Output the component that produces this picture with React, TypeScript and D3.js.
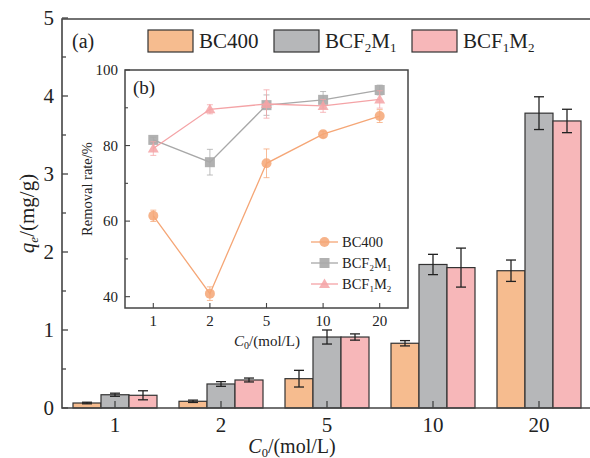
import React from "react";
import * as d3 from "d3";

// concentrations (mol/L)
const conc = ["1", "2", "5", "10", "20"];
const series = ["BC400", "BCF2M1", "BCF1M2"];

// main panel (a): adsorption capacity qe (mg/g)
const qeBC400 = [0.064, 0.086, 0.376, 0.83, 1.76];
const qeBCF2M1 = [0.17, 0.308, 0.91, 1.84, 3.78];
const qeBCF1M2 = [0.163, 0.359, 0.91, 1.8, 3.68];
const qeErrBC400 = [0.01, 0.015, 0.107, 0.034, 0.137];
const qeErrBCF2M1 = [0.02, 0.03, 0.09, 0.13, 0.21];
const qeErrBCF1M2 = [0.058, 0.025, 0.04, 0.25, 0.15];

// inset (b): removal rate (%)
const rrBC400 = [61.4, 40.8, 75.3, 83.0, 87.8];
const rrBCF2M1 = [81.5, 75.6, 90.7, 92.1, 94.7];
const rrBCF1M2 = [79.2, 89.6, 91.0, 90.5, 92.2];
const rrErrBC400 = [1.5, 1.8, 3.8, 0.8, 1.7];
const rrErrBCF2M1 = [0.7, 3.4, 2.7, 2.2, 1.3];
const rrErrBCF1M2 = [1.8, 1.2, 3.75, 1.7, 2.3];

const barFill = ["#F6BC8F", "#B6B7B9", "#F7B7B9"];
const lineCol = ["#F5A676", "#A8A8A8", "#F4A3A6"];
const ink = "#222";
const font = "Liberation Serif, Times New Roman, DejaVu Serif, serif";

const qeVals = [qeBC400, qeBCF2M1, qeBCF1M2];
const qeErrs = [qeErrBC400, qeErrBCF2M1, qeErrBCF1M2];
const rrVals = [rrBC400, rrBCF2M1, rrBCF1M2];
const rrErrs = [rrErrBC400, rrErrBCF2M1, rrErrBCF1M2];

function Label({ name, size, sub }: { name: string; size: number; sub: number }) {
  // BCF2M1 -> BCF₂M₁ with real subscripts
  const m = name.match(/^BCF(\d)M(\d)$/);
  if (!m) return <>{name}</>;
  return (
    <>
      BCF<tspan fontSize={size * 0.62} dy={sub}>{m[1]}</tspan>
      <tspan dy={-sub}>M</tspan>
      <tspan fontSize={size * 0.62} dy={sub}>{m[2]}</tspan>
    </>
  );
}

export default function App() {
  const W = 590, H = 458;
  const L = 62, R = 592, T = 19, B = 408;

  const x0 = d3.scaleBand().domain(conc).range([L, R]);
  const x1 = d3.scaleBand().domain(series).range([0, 84]);
  const y = d3.scaleLinear().domain([0, 5]).range([B, T - 1]);

  // inset
  const iL = 125, iR = 408, iT = 70, iB = 308;
  const ix = d3.scalePoint().domain(conc).range([iL, iR]).padding(0.5);
  const iy = d3.scaleLinear().domain([37, 100]).range([iB, iT]);
  const line = d3.line<number>().x((_, i) => ix(conc[i])!).y((d) => iy(d));

  const yMajor = d3.range(0, 6);
  const yMinor = d3.range(0.5, 5, 1);
  const iyMajor = [40, 60, 80, 100];
  const iyMinor = [50, 70, 90];

  const marker = (k: number, cx: number, cy: number, key: string) => {
    const c = lineCol[k];
    if (k === 0) return <circle key={key} cx={cx} cy={cy} r={5} fill={c} fillOpacity={0.85} />;
    if (k === 1) return <rect key={key} x={cx - 5} y={cy - 5} width={10} height={10} fill={c} fillOpacity={0.9} />;
    return <path key={key} d={`M${cx},${cy - 5.5}L${cx + 5.5},${cy + 4}L${cx - 5.5},${cy + 4}Z`} fill={c} fillOpacity={0.85} />;
  };

  return (
    <svg width={W} height={H} style={{ position: "absolute", left: 0, top: 0 }}>
      <rect width={W} height={H} fill="#fff" />
      <g fontFamily={font}>

      {/* bars */}
      {conc.map((c, i) => (
        <g key={c} transform={`translate(${x0(c)! + (x0.bandwidth() - 84) / 2},0)`}>
          {series.map((s, k) => {
            const v = qeVals[k][i];
            const e = qeErrs[k][i];
            const bx = x1(s)!;
            const cx = bx + x1.bandwidth() / 2;
            return (
              <g key={s}>
                <rect x={bx} y={y(v)} width={x1.bandwidth()} height={B - y(v)} fill={barFill[k]} stroke="#333" strokeWidth={1.2} />
                <line x1={cx} x2={cx} y1={y(v + e)} y2={y(v - e)} stroke={ink} strokeWidth={1.3} />
                <line x1={cx - 5} x2={cx + 5} y1={y(v + e)} y2={y(v + e)} stroke={ink} strokeWidth={1.3} />
                <line x1={cx - 5} x2={cx + 5} y1={y(v - e)} y2={y(v - e)} stroke={ink} strokeWidth={1.3} />
              </g>
            );
          })}
        </g>
      ))}

      {/* main axes */}
      <path d={`M${R},${T}H${L}V${B}H${R}`} fill="none" stroke="#444" strokeWidth={1.6} />
      {yMajor.map((t) => (
        <g key={t}>
          <line x1={L} x2={L + 6} y1={y(t)} y2={y(t)} stroke="#444" strokeWidth={1.3} />
          <text x={54} y={y(t) + 7} fontSize={21} textAnchor="end" fill={ink}>{t}</text>
        </g>
      ))}
      {yMinor.map((t) => (
        <line key={t} x1={L} x2={L + 4} y1={y(t)} y2={y(t)} stroke="#444" strokeWidth={1.3} />
      ))}
      {conc.map((c) => (
        <g key={c}>
          <line x1={x0(c)! + x0.bandwidth() / 2} x2={x0(c)! + x0.bandwidth() / 2} y1={B} y2={B - 7} stroke="#444" strokeWidth={1.3} />
          <text x={x0(c)! + x0.bandwidth() / 2} y={432} fontSize={21} textAnchor="middle" fill={ink}>{c}</text>
        </g>
      ))}
      <text x={292} y={453} fontSize={20} textAnchor="middle" fill={ink}>
        <tspan fontStyle="italic">C</tspan>
        <tspan fontSize={12.5} dy={3.5}>0</tspan>
        <tspan dy={-3.5}>/(mol/L)</tspan>
      </text>
      <text transform={`translate(34,${(T + B) / 2}) rotate(-90)`} fontSize={21} textAnchor="middle" fill={ink}>
        <tspan fontStyle="italic">q</tspan>
        <tspan fontStyle="italic" fontSize={13} dy={4}>e</tspan>
        <tspan dy={-4}>/(mg/g)</tspan>
      </text>
      <text x={72} y={48} fontSize={20} fill={ink}>(a)</text>

      {/* top legend */}
      {series.map((s, k) => {
        const lx = [148, 274, 412][k];
        return (
          <g key={s}>
            <rect x={lx} y={30} width={45} height={22} fill={barFill[k]} stroke="#333" strokeWidth={1.2} />
            <text x={lx + 51} y={48} fontSize={21} fill={ink}>
              <Label name={s} size={21} sub={4} />
            </text>
          </g>
        );
      })}

      {/* inset (b) */}
      <rect x={iL} y={iT} width={iR - iL} height={iB - iT} fill="#fff" stroke="#444" strokeWidth={1.5} />
      {iyMajor.map((t) => (
        <g key={t}>
          <line x1={iL} x2={iL + 5} y1={iy(t)} y2={iy(t)} stroke="#444" strokeWidth={1.1} />
          <text x={118} y={iy(t) + 5} fontSize={15} textAnchor="end" fill={ink}>{t}</text>
        </g>
      ))}
      {iyMinor.map((t) => (
        <line key={t} x1={iL} x2={iL + 3} y1={iy(t)} y2={iy(t)} stroke="#444" strokeWidth={1.1} />
      ))}
      {conc.map((c) => (
        <g key={c}>
          <line x1={ix(c)!} x2={ix(c)!} y1={iB} y2={iB - 5} stroke="#444" strokeWidth={1.1} />
          <text x={ix(c)!} y={326} fontSize={15} textAnchor="middle" fill={ink}>{c}</text>
        </g>
      ))}
      <text x={267} y={346} fontSize={15} textAnchor="middle" fill={ink}>
        <tspan fontStyle="italic">C</tspan>
        <tspan fontSize={10} dy={3}>0</tspan>
        <tspan dy={-3}>/(mol/L)</tspan>
      </text>
      <text transform={`translate(92,${(iT + iB) / 2}) rotate(-90)`} fontSize={14.5} textAnchor="middle" fill={ink}>
        Removal rate/%
      </text>
      <text x={133} y={94} fontSize={19} fill={ink}>(b)</text>

      {rrVals.map((vals, k) => (
        <g key={k}>
          <path d={line(vals)!} fill="none" stroke={lineCol[k]} strokeWidth={1.3} />
          {vals.map((v, i) => {
            const cx = ix(conc[i])!;
            const e = rrErrs[k][i];
            return (
              <g key={i} stroke={lineCol[k]} strokeOpacity={0.75} strokeWidth={1}>
                <line x1={cx} x2={cx} y1={iy(v + e)} y2={iy(v - e)} />
                <line x1={cx - 3} x2={cx + 3} y1={iy(v + e)} y2={iy(v + e)} />
                <line x1={cx - 3} x2={cx + 3} y1={iy(v - e)} y2={iy(v - e)} />
              </g>
            );
          })}
          {vals.map((v, i) => marker(k, ix(conc[i])!, iy(v), `${k}-${i}`))}
        </g>
      ))}

      {/* inset legend */}
      {series.map((s, k) => {
        const ly = 242 + k * 21;
        return (
          <g key={s}>
            <line x1={311} x2={338} y1={ly} y2={ly} stroke={lineCol[k]} strokeWidth={1.3} />
            {marker(k, 324.5, ly, `lg${k}`)}
            <text x={342} y={ly + 5} fontSize={14.5} fill={ink}>
              <Label name={s} size={14.5} sub={3} />
            </text>
          </g>
        );
      })}
      </g>
    </svg>
  );
}
